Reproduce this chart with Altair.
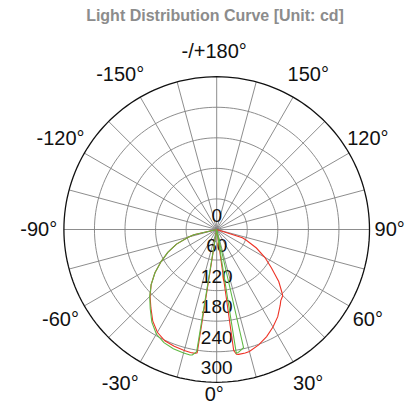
import altair as alt
import pandas as pd

TITLE = "Light Distribution Curve [Unit: cd]"

# C0-C180 plane (red): angle in degrees (0 = straight down), intensity in cd
red_angles = [-90, -80, -77, -75, -70, -65, -60, -55, -50, -45, -40, -35, -30, -25, -20,
              -15, -12, -10, -9, -7, 0, 7, 8, 9, 10, 13, 15, 20, 25, 30, 35, 40, 42, 44,
              45, 46, 48, 50, 55, 60, 65, 70, 72, 74, 80, 90]
red_values = [0, 0, 46, 57, 84, 106, 126, 148, 168, 185, 201, 219, 233, 241, 244,
              246, 247, 247, 245, 0, 0, 0, 240, 248, 249, 249, 248, 241, 232, 221, 209, 194, 188, 185,
              183, 178, 168, 159, 131, 109, 86, 62, 53, 0, 0, 0]

# C90-C270 plane (green)
green_angles = [-90, -80, -77, -75, -70, -65, -60, -55, -50, -45, -40, -35, -30, -25, -20,
                -15, -12, -11, -9.3, -7, 0, 7, 9, 10, 12.8, 14, 90]
green_values = [0, 0, 46, 57, 84, 106, 126, 148, 168, 186, 203, 222, 237, 245, 249,
                251, 252, 251, 243, 0, 0, 0, 246, 245, 238, 0, 0]

ring_values = [60, 120, 180, 240, 300]
spoke_angles = [i * 15 for i in range(24)]
angle_ticks = [0, 30, 60, 90, 120, 150, 180, -150, -120, -90, -60, -30]
angle_tick_labels = ["0°", "30°", "60°", "90°", "120°", "150°", "-/+180°",
                     "-150°", "-120°", "-90°", "-60°", "-30°"]
radial_ticks = [0, 60, 120, 180, 240, 300]
radial_tick_labels = ["0", "60", "120", "180", "240", "300"]

R_MAX = 300
K = 152.8 / R_MAX          # px per cd
W, H = 397, 396            # plot area (whole page minus 8px margins)
CX, CY = 208.7, 221.5      # pole position inside plot area (px)
x_dom = [-CX / K, (W - CX) / K]
y_dom = [-(H - CY) / K, CY / K]
# angle-label placement (px converted to cd units)
LAB_AX, LAB_BX, LAB_SX = 163 / K, 12.5 / K, -2.5 / K
LAB_AY, LAB_BY = 174 / K, 3.5 / K
LAB_YMAX = 165.5 / K
TITLE_X = (207 - CX) / K
TITLE_Y = (CY - 12.5) / K

FONT = "Liberation Sans"
RED = "#ee3326"
GREEN = "#5fb944"
GRID = "#808080"

xs = alt.Scale(domain=x_dom, nice=False, zero=False)
ys = alt.Scale(domain=y_dom, nice=False, zero=False)


def X(f):
    return alt.X(f, type="quantitative", scale=xs, axis=None)


def Y(f):
    return alt.Y(f, type="quantitative", scale=ys, axis=None)


ring_df = pd.DataFrame([(r, t) for r in ring_values for t in range(0, 361, 2)],
                       columns=["ring", "t"])
ring_base = alt.Chart(ring_df).transform_calculate(
    px="datum.ring * sin(datum.t * PI / 180)",
    py="-datum.ring * cos(datum.t * PI / 180)",
)
inner_rings = ring_base.transform_filter(f"datum.ring < {R_MAX}").mark_line(
    stroke=GRID, strokeWidth=0.9
).encode(x=X("px"), y=Y("py"), detail="ring:N", order="t:Q")
outer_ring = ring_base.transform_filter(f"datum.ring == {R_MAX}").mark_line(
    stroke="#111111", strokeWidth=1.3
).encode(x=X("px"), y=Y("py"), order="t:Q")

spokes = alt.Chart(pd.DataFrame({"angle": spoke_angles})).transform_calculate(
    x0="0", y0="0",
    xe=f"{R_MAX} * sin(datum.angle * PI / 180)",
    ye=f"-{R_MAX} * cos(datum.angle * PI / 180)",
).mark_rule(stroke=GRID, strokeWidth=0.9).encode(
    x=X("x0"), y=Y("y0"), x2="xe:Q", y2="ye:Q"
)

ang_df = pd.DataFrame({"angle": angle_ticks, "label": angle_tick_labels})
angle_text = alt.Chart(ang_df).transform_calculate(
    s="sin(datum.angle * PI / 180)",
    c="cos(datum.angle * PI / 180)",
).transform_calculate(
    sg_s="datum.s > 1e-6 ? 1 : (datum.s < -1e-6 ? -1 : 0)",
    sg_c="datum.c > 1e-6 ? 1 : (datum.c < -1e-6 ? -1 : 0)",
).transform_calculate(
    lx=f"{LAB_SX} + {LAB_AX} * datum.s + {LAB_BX} * datum.sg_s",
    ly=f"-min({LAB_AY} * datum.c + {LAB_BY} * datum.sg_c, {LAB_YMAX})",
).mark_text(font=FONT, fontSize=20, color="#111111", align="center",
            baseline="middle").encode(x=X("lx"), y=Y("ly"), text="label:N")

rad_df = pd.DataFrame({"value": radial_ticks, "label": radial_tick_labels})
radial_text = alt.Chart(rad_df).transform_calculate(
    lx="0", ly="-datum.value"
).mark_text(font=FONT, fontSize=19, color="#111111", align="center",
            baseline="middle", dy=-14).encode(x=X("lx"), y=Y("ly"), text="label:N")

title_text = alt.Chart(pd.DataFrame({"label": [TITLE]})).transform_calculate(
    lx=f"{TITLE_X}", ly=f"{TITLE_Y}"
).mark_text(font=FONT, fontSize=16, fontWeight="bold", color="#8c8c8c",
            align="center", baseline="alphabetic").encode(
    x=X("lx"), y=Y("ly"), text="label:N"
)


def curve(angles, values, color):
    df = pd.DataFrame({"angle": angles, "value": values, "i": range(len(angles))})
    return alt.Chart(df).transform_calculate(
        px="datum.value * sin(datum.angle * PI / 180)",
        py="-datum.value * cos(datum.angle * PI / 180)",
    ).mark_line(stroke=color, strokeWidth=1.1).encode(
        x=X("px"), y=Y("py"), order="i:Q"
    )


red_curve = curve(red_angles, red_values, RED)
green_curve = curve(green_angles, green_values, GREEN)

chart = alt.layer(
    inner_rings, spokes, outer_ring, radial_text, angle_text, title_text,
    red_curve, green_curve
).properties(
    width=W, height=H,
    autosize=alt.AutoSizeParams(type="none"),
    padding={"left": 0, "top": 0, "right": 0, "bottom": 0},
).configure_view(stroke=None)

chart.save("out.html", embed_options={"renderer": "svg", "actions": False})
